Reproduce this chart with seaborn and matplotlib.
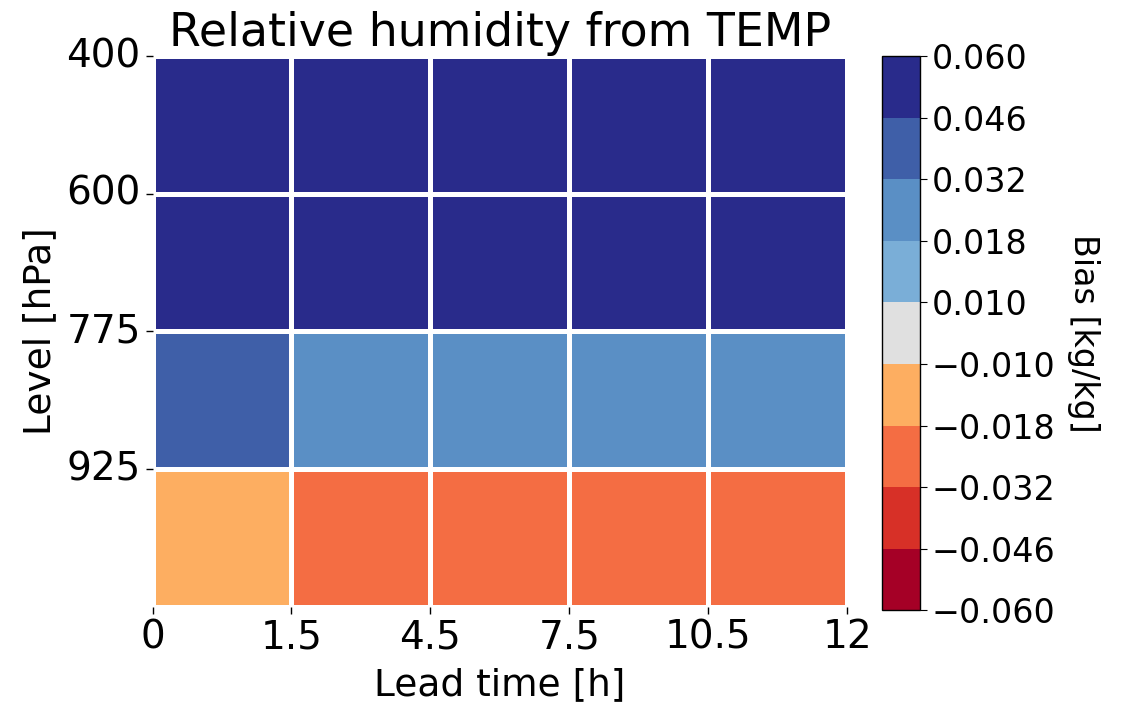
import numpy as np
import pandas as pd
import matplotlib
matplotlib.use("Agg")
import matplotlib.pyplot as plt
from matplotlib.colors import ListedColormap, BoundaryNorm
import seaborn as sns

# Bias per pressure level (rows) and lead-time bin (columns)
levels = ["400", "600", "775", "925"]
lead_edges = ["0", "1.5", "4.5", "7.5", "10.5", "12"]
bias_400 = [0.055, 0.055, 0.055, 0.055, 0.055]
bias_600 = [0.055, 0.055, 0.055, 0.055, 0.055]
bias_775 = [0.040, 0.025, 0.025, 0.025, 0.025]
bias_925 = [-0.014, -0.025, -0.025, -0.025, -0.025]

# Discrete colour classes of the bias scale
bounds = [-0.060, -0.046, -0.032, -0.018, -0.010, 0.010, 0.018, 0.032, 0.046, 0.060]
class_colors = ["#a50026", "#d73027", "#f46d43", "#fdae61", "#e0e0e0",
                "#7aaed7", "#5a8fc5", "#3f5fa8", "#292b8b"]

data = pd.DataFrame([bias_400, bias_600, bias_775, bias_925])

cmap = ListedColormap(class_colors)
norm = BoundaryNorm(bounds, cmap.N)

fig = plt.figure(figsize=(11.22, 7.03), dpi=100)
ax = fig.add_axes([0.136, 0.137, 0.619, 0.783])
cax = fig.add_axes([0.786, 0.132, 0.034, 0.788])

sns.heatmap(data, ax=ax, cbar_ax=cax, cmap=cmap, norm=norm,
            linewidths=2.5, linecolor="white",
            cbar_kws={"ticks": bounds})

ax.set_xticks(np.arange(len(lead_edges)))
ax.set_xticklabels(lead_edges, rotation=0)
ax.set_yticks(np.arange(len(levels)))
ax.set_yticklabels(levels, rotation=0)
ax.tick_params(axis="both", labelsize=28, length=5, width=1)
ax.set_xlabel("Lead time [h]", fontsize=27, labelpad=8)
ax.set_ylabel("Level [hPa]", fontsize=27, labelpad=6)
ax.set_title("Relative humidity from TEMP", fontsize=33, pad=4)

cbar = ax.collections[0].colorbar
cbar.set_ticks(bounds)
cbar.set_ticklabels([f"{b:.3f}".replace("-", "\u2212") for b in bounds])
cbar.ax.tick_params(labelsize=24, length=5)
cbar.outline.set_visible(True)
cbar.outline.set_edgecolor("black")
cbar.outline.set_linewidth(1)
cbar.set_label("Bias [kg/kg]", fontsize=24, rotation=270, labelpad=32)

fig.savefig("out.png", dpi=100)
